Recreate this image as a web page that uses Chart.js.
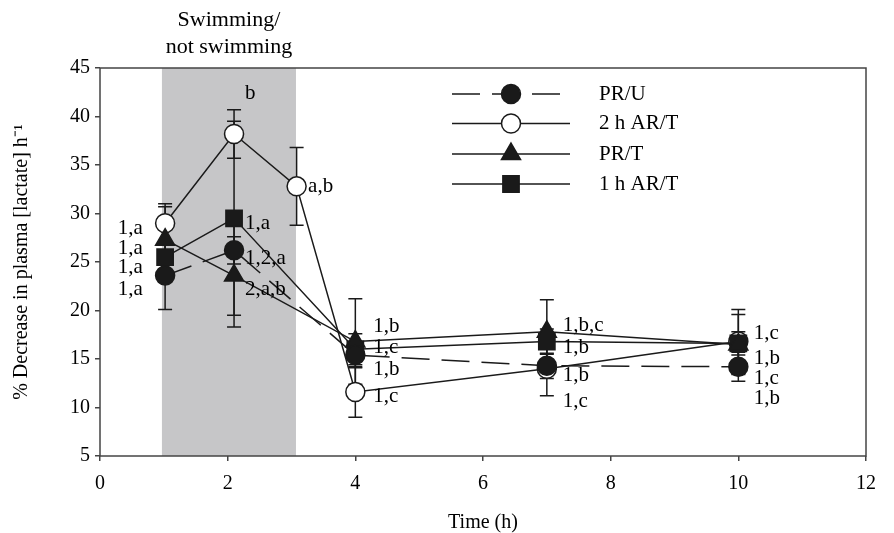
<!DOCTYPE html>
<html><head><meta charset="utf-8">
<script src="https://cdn.jsdelivr.net/npm/chart.js@4/dist/chart.umd.min.js"></script>
<style>html,body{margin:0;padding:0;background:#fff}#wrap{width:894px;height:533px;position:relative}</style>
</head><body><div id="wrap"><canvas id="c"></canvas></div>
<script>
// ---- data ----
const seriesNames = ['PR/U', '2 h AR/T', 'PR/T', '1 h AR/T'];

const timesPRU   = [1.02, 2.1, 4, 7, 10];
const valuesPRU  = [23.6, 26.2, 15.4, 14.3, 14.2];
const errorsPRU  = [3.5, 1.4, 1.3, 1.3, 1.5];

const times2hART  = [1.02, 2.1, 3.08, 4, 7, 10];
const values2hART = [29.0, 38.2, 32.8, 11.6, 14.0, 16.8];
const errors2hART = [2.0, 2.5, 4.0, 2.6, 2.8, 3.3];

const timesPRT   = [1.02, 2.1, 4, 7, 10];
const valuesPRT  = [27.3, 23.6, 16.8, 17.8, 16.5];
const errorsPRT  = [3.4, 5.3, 4.4, 3.3, 3.1];

const times1hART  = [1.02, 2.1, 4, 7, 10];
const values1hART = [25.5, 29.5, 16.0, 16.8, 16.6];
const errors1hART = [1.5, 10.0, 1.6, 1.3, 1.2];

const xTicks = [0, 2, 4, 6, 8, 10, 12];
const yTicks = [5, 10, 15, 20, 25, 30, 35, 40, 45];

const shadeStart = 0.97;
const shadeEnd = 3.07;
const shadeTitle = ['Swimming/', 'not swimming'];

// significance labels (text, time, value)
const noteTexts = ['1,a','1,a','1,a','1,a', 'b','1,a','1,2,a','2,a,b', 'a,b',
  '1,b','1,c','1,b','1,c', '1,b,c','1,b','1,b','1,c', '1,c','1,b','1,c','1,b'];
const noteTimes = [0.67,0.67,0.67,0.67, 2.27,2.27,2.27,2.27, 3.26,
  4.28,4.28,4.28,4.28, 7.25,7.25,7.25,7.25, 10.24,10.24,10.24,10.24];
const noteValues = [28.5,26.4,24.4,22.2, 42.4,29.0,25.4,22.2, 32.8,
  18.4,16.2,13.9,11.1, 18.5,16.2,13.35,10.6, 17.65,15.1,13.0,10.95];
const noteRightAligned = [true,true,true,true, false,false,false,false, false,
  false,false,false,false, false,false,false,false, false,false,false,false];

// ---- chart ----
const FONT = 'Liberation Serif, Times New Roman, serif';
const INK = '#1a1a1a';
const AXIS = '#444';

function pts(xs, ys) { return xs.map((x, i) => ({x: x, y: ys[i]})); }

const errorSets = [errorsPRU, errors2hART, errorsPRT, errors1hART];

const datasets = [
  {label: seriesNames[0], data: pts(timesPRU, valuesPRU), borderDash: [28, 12], order: 0,
   pointStyle: 'circle', pointRadius: 9.5, pointBackgroundColor: INK},
  {label: seriesNames[1], data: pts(times2hART, values2hART), order: 10,
   pointStyle: 'circle', pointRadius: 9.5, pointBackgroundColor: '#fff'},
  {label: seriesNames[2], data: pts(timesPRT, valuesPRT), order: 1,
   pointStyle: 'triangle', pointRadius: 11, pointBackgroundColor: INK},
  {label: seriesNames[3], data: pts(times1hART, values1hART), order: 2,
   pointStyle: 'rect', pointRadius: 11.5, pointBackgroundColor: INK}
].map(d => Object.assign({
  borderColor: INK, borderWidth: 1.5, pointBorderColor: INK, pointBorderWidth: 1.5,
  pointHoverRadius: d.pointRadius, fill: false, tension: 0
}, d));

const decorPlugin = {
  id: 'decor',
  beforeDatasetsDraw(chart) {
    const {ctx, chartArea: a, scales: {x, y}} = chart;
    ctx.save();
    // shaded period
    ctx.fillStyle = '#c6c6c8';
    const sx0 = x.getPixelForValue(shadeStart), sx1 = x.getPixelForValue(shadeEnd);
    ctx.fillRect(sx0, a.top, sx1 - sx0, a.bottom - a.top);
    // error bars
    ctx.strokeStyle = INK;
    ctx.lineWidth = 1.5;
    chart.data.datasets.forEach((ds, di) => {
      const errs = errorSets[di];
      ds.data.forEach((p, i) => {
        const px = x.getPixelForValue(p.x);
        const yt = y.getPixelForValue(p.y + errs[i]);
        const yb = y.getPixelForValue(p.y - errs[i]);
        ctx.beginPath();
        ctx.moveTo(px, yt); ctx.lineTo(px, yb);
        ctx.moveTo(px - 7, yt); ctx.lineTo(px + 7, yt);
        ctx.moveTo(px - 7, yb); ctx.lineTo(px + 7, yb);
        ctx.stroke();
      });
    });
    ctx.restore();
  },
  afterDatasetsDraw(chart) {
    const {ctx, chartArea: a, scales: {x, y}} = chart;
    ctx.save();
    // frame
    ctx.strokeStyle = AXIS;
    ctx.lineWidth = 1.5;
    ctx.strokeRect(a.left, a.top, a.right - a.left, a.bottom - a.top);
    // shade title
    ctx.fillStyle = '#000';
    ctx.font = '22px ' + FONT;
    ctx.textAlign = 'center';
    ctx.textBaseline = 'middle';
    const cx = (x.getPixelForValue(shadeStart) + x.getPixelForValue(shadeEnd)) / 2;
    ctx.fillText(shadeTitle[0], cx, 20);
    ctx.fillText(shadeTitle[1], cx, 47);
    // notes
    ctx.font = '21px ' + FONT;
    noteTexts.forEach((t, i) => {
      ctx.textAlign = noteRightAligned[i] ? 'right' : 'left';
      ctx.fillText(t, x.getPixelForValue(noteTimes[i]), y.getPixelForValue(noteValues[i]));
    });
    // legend
    const rows = [94, 123.5, 154, 184];
    chart.data.datasets.forEach((ds, i) => {
      const ry = rows[i];
      ctx.strokeStyle = INK;
      ctx.lineWidth = 1.5;
      ctx.setLineDash(ds.borderDash || []);
      ctx.beginPath(); ctx.moveTo(452, ry); ctx.lineTo(570, ry); ctx.stroke();
      ctx.setLineDash([]);
      ctx.fillStyle = ds.pointBackgroundColor;
      ctx.strokeStyle = INK;
      Chart.helpers.drawPoint(ctx, {pointStyle: ds.pointStyle, radius: ds.pointRadius, rotation: 0, borderWidth: 1.5}, 511, ry);
      ctx.fillStyle = '#000';
      ctx.font = '21px ' + FONT;
      ctx.textAlign = 'left';
      ctx.textBaseline = 'middle';
      ctx.fillText(ds.label, 599, ry);
    });
    ctx.restore();
  }
};

new Chart(document.getElementById('c'), {
  type: 'line',
  data: {datasets: datasets},
  options: {
    responsive: true, maintainAspectRatio: false, animation: false,
    devicePixelRatio: 1,
    layout: {padding: {top: 68, right: 28, left: 0, bottom: 0}},
    plugins: {legend: {display: false}, tooltip: {enabled: false}},
    scales: {
      x: {
        type: 'linear', min: 0, max: 12,
        afterBuildTicks(s) { s.ticks = xTicks.map(v => ({value: v})); },
        ticks: {font: {family: FONT, size: 20}, color: '#000', padding: 11, maxRotation: 0},
        grid: {drawOnChartArea: false, drawTicks: true, tickLength: 5, color: AXIS, lineWidth: 1.5},
        border: {display: false},
        title: {display: true, text: 'Time (h)', font: {family: FONT, size: 20}, color: '#000', padding: {top: 0, bottom: -2}},
        afterFit(s) { s.height = 77; }
      },
      y: {
        type: 'linear', min: 5, max: 45,
        afterBuildTicks(s) { s.ticks = yTicks.map(v => ({value: v})); },
        ticks: {font: {family: FONT, size: 20}, color: '#000', padding: 5},
        grid: {drawOnChartArea: false, drawTicks: true, tickLength: 5, color: AXIS, lineWidth: 1.5},
        border: {display: false},
        title: {display: true, text: '% Decrease in plasma [lactate] h\u207B\u00B9', font: {family: FONT, size: 20}, color: '#000', padding: {top: 10, bottom: 0}},
        afterFit(s) { s.width = 100; }
      }
    }
  },
  plugins: [decorPlugin]
});
</script>
</body></html>
